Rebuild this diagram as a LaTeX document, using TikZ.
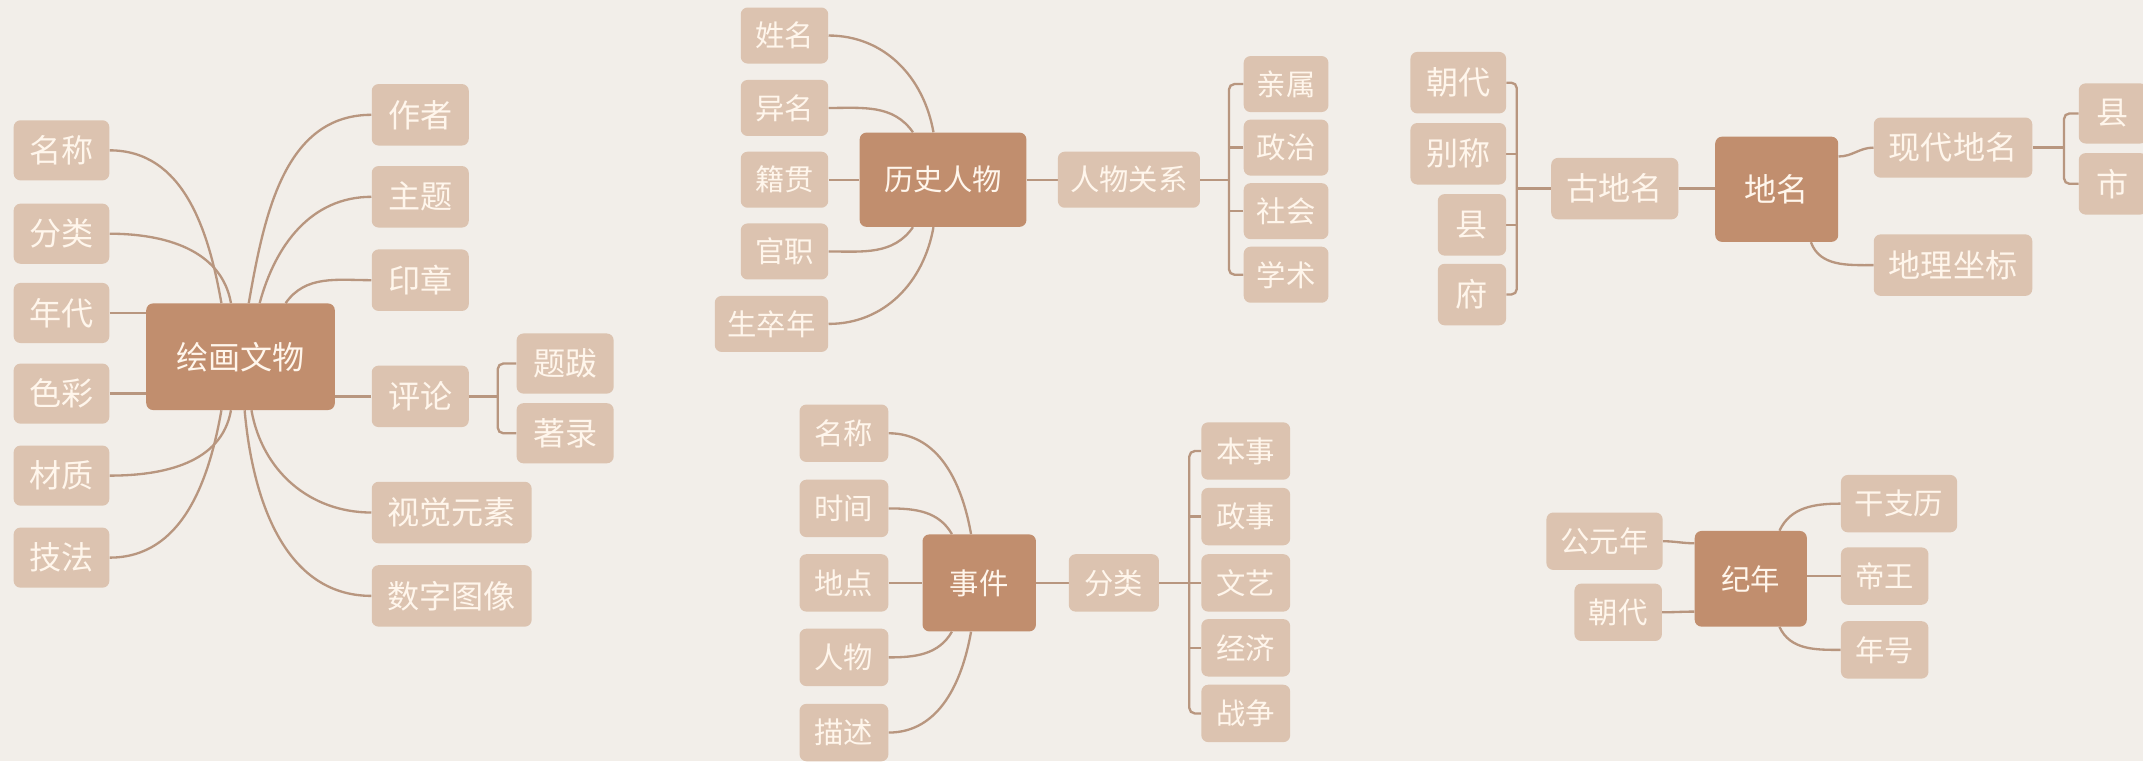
\documentclass[tikz,border=0pt]{standalone}
\usepackage{fontspec}
\newfontfamily\cjk{Noto Sans CJK SC}
\usetikzlibrary{backgrounds}
\definecolor{bgc}{HTML}{F2EEE9}
\definecolor{hubc}{HTML}{C18E6E}
\definecolor{leafc}{HTML}{DCC3B0}
\definecolor{txt}{HTML}{FFF6EC}
\definecolor{linec}{HTML}{B8967F}
\tikzset{
  hub/.style={rectangle, rounded corners=5pt, fill=hubc, text=txt, inner sep=0pt},
  leaf/.style={rectangle, rounded corners=5pt, fill=leafc, text=txt, inner sep=0pt},
  link/.style={draw=linec, line width=1.7pt},
  big/.style={font=\cjk\fontsize{23.5}{24}\selectfont},
  small/.style={font=\cjk\fontsize{21.5}{22}\selectfont},
  sz/.style 2 args={minimum width=#1pt, minimum height=#2pt}
}
\begin{document}
\begin{tikzpicture}[x=1pt,y=1pt]
\useasboundingbox (0,0) rectangle (1568,-557);
\clip (0,0) rectangle (1568,-557);
% ---------- group 1 ----------
\node[hub,big,sz={138}{78}] (g1c) at (176,-261) {绘画文物};
\node[leaf,big,sz={70}{44}] (g1a) at (45,-110) {名称};
\node[leaf,big,sz={70}{44}] (g1b) at (45,-171) {分类};
\node[leaf,big,sz={70}{44}] (g1d) at (45,-229) {年代};
\node[leaf,big,sz={70}{44}] (g1e) at (45,-288) {色彩};
\node[leaf,big,sz={70}{44}] (g1f) at (45,-348) {材质};
\node[leaf,big,sz={70}{44}] (g1g) at (45,-408) {技法};
\node[leaf,big,sz={71}{45}] (g1h) at (307.5,-84) {作者};
\node[leaf,big,sz={71}{45}] (g1i) at (307.5,-144) {主题};
\node[leaf,big,sz={71}{45}] (g1j) at (307.5,-205) {印章};
\node[leaf,big,sz={71}{45}] (g1k) at (307.5,-290) {评论};
\node[leaf,big,sz={117}{45}] (g1l) at (330.5,-375) {视觉元素};
\node[leaf,big,sz={117}{45}] (g1m) at (330.5,-436) {数字图像};
\node[leaf,big,sz={71}{44}] (g1n) at (413.5,-266) {题跋};
\node[leaf,big,sz={71}{44}] (g1o) at (413.5,-317) {著录};
\coordinate (g1br) at ([xshift=21pt]g1k.east);
% ---------- group 2 ----------
\node[hub,small,sz={122}{69}] (g2c) at (690,-131.5) {历史人物};
\node[leaf,small,sz={64}{41}] (g2a) at (574,-26) {姓名};
\node[leaf,small,sz={64}{41}] (g2b) at (574,-79) {异名};
\node[leaf,small,sz={64}{41}] (g2d) at (574,-131.5) {籍贯};
\node[leaf,small,sz={64}{41}] (g2e) at (574,-184) {官职};
\node[leaf,small,sz={83}{41}] (g2f) at (564.5,-237) {生卒年};
\node[leaf,small,sz={104}{41}] (g2g) at (826,-131.5) {人物关系};
\node[leaf,small,sz={62}{41}] (g2h) at (941,-61.5) {亲属};
\node[leaf,small,sz={62}{41}] (g2i) at (941,-108) {政治};
\node[leaf,small,sz={62}{41}] (g2j) at (941,-154.5) {社会};
\node[leaf,small,sz={62}{41}] (g2k) at (941,-201) {学术};
\coordinate (g2br) at ([xshift=21pt]g2g.east);
% ---------- group 3 ----------
\node[hub,big,sz={90}{77}] (g3c) at (1300,-138.5) {地名};
\node[leaf,big,sz={70}{45}] (g3a) at (1067,-60.5) {朝代};
\node[leaf,big,sz={70}{45}] (g3b) at (1067,-112.5) {别称};
\node[leaf,big,sz={50}{45}] (g3d) at (1077,-164.5) {县};
\node[leaf,big,sz={50}{45}] (g3e) at (1077,-215.5) {府};
\node[leaf,big,sz={93}{45}] (g3f) at (1181.5,-138) {古地名};
\node[leaf,big,sz={116}{44}] (g3g) at (1429,-108) {现代地名};
\node[leaf,big,sz={116}{45}] (g3h) at (1429,-194) {地理坐标};
\node[leaf,big,sz={50}{44}] (g3i) at (1546,-83) {县};
\node[leaf,big,sz={50}{45}] (g3j) at (1546,-134.5) {市};
\coordinate (g3br) at ([xshift=-25pt]g3f.west);
\coordinate (g3br2) at ([xshift=23pt]g3g.east);
% ---------- group 4 ----------
\node[hub,small,sz={83}{71}] (g4c) at (716.5,-426.5) {事件};
\node[leaf,small,sz={65}{42}] (g4a) at (617.5,-317) {名称};
\node[leaf,small,sz={65}{42}] (g4b) at (617.5,-372) {时间};
\node[leaf,small,sz={65}{42}] (g4d) at (617.5,-426.5) {地点};
\node[leaf,small,sz={65}{42}] (g4e) at (617.5,-481) {人物};
\node[leaf,small,sz={65}{42}] (g4f) at (617.5,-536) {描述};
\node[leaf,small,sz={66}{42}] (g4g) at (815,-426.5) {分类};
\node[leaf,small,sz={65}{42}] (g4h) at (911.5,-330) {本事};
\node[leaf,small,sz={65}{42}] (g4i) at (911.5,-378) {政事};
\node[leaf,small,sz={65}{42}] (g4j) at (911.5,-426.5) {文艺};
\node[leaf,small,sz={65}{42}] (g4k) at (911.5,-474) {经济};
\node[leaf,small,sz={65}{42}] (g4l) at (911.5,-522) {战争};
\coordinate (g4br) at ([xshift=22pt]g4g.east);
% ---------- group 5 ----------
\node[hub,small,sz={82}{70}] (g5c) at (1281,-423.5) {纪年};
\node[leaf,small,sz={85}{42}] (g5a) at (1174,-396) {公元年};
\node[leaf,small,sz={64}{42}] (g5b) at (1184,-448) {朝代};
\node[leaf,small,sz={85}{42}] (g5d) at (1389.5,-368.5) {干支历};
\node[leaf,small,sz={64}{42}] (g5e) at (1379,-421.5) {帝王};
\node[leaf,small,sz={64}{42}] (g5f) at (1379,-475.5) {年号};

\begin{pgfonlayer}{background}
\fill[bgc] (0,0) rectangle (1568,-557);
% group 1
\draw[link] (g1a.east) to[out=0,in=100] ([xshift=-14pt]g1c.north);
\draw[link] (g1b.east) to[out=0,in=100] ([xshift=-7pt]g1c.north);
\draw[link] (g1d.east) -- (g1d.east -| g1c.west);
\draw[link] (g1e.east) -- (g1e.east -| g1c.west);
\draw[link] (g1f.east) to[out=0,in=-100] ([xshift=-7pt]g1c.south);
\draw[link] (g1g.east) to[out=0,in=-100] ([xshift=-14pt]g1c.south);
\draw[link] (g1h.west) to[out=180,in=80] ([xshift=6pt]g1c.north);
\draw[link] (g1i.west) to[out=180,in=75] ([xshift=14pt]g1c.north);
\draw[link] (g1j.west) to[out=180,in=55] ([xshift=33pt]g1c.north);
\draw[link] (g1k.west) -- (g1k.west -| g1c.east);
\draw[link] (g1l.west) to[out=180,in=-80] ([xshift=8pt]g1c.south);
\draw[link] (g1m.west) to[out=180,in=-85] ([xshift=3pt]g1c.south);
\draw[link] (g1k.east) -- (g1br);
\draw[link,rounded corners=4pt] (g1n.west) -| (g1br) |- (g1o.west);
% group 2
\draw[link] (g2a.east) to[out=0,in=100] ([xshift=-7pt]g2c.north);
\draw[link] (g2b.east) to[out=0,in=125] ([xshift=-22pt]g2c.north);
\draw[link] (g2d.east) -- (g2d.east -| g2c.west);
\draw[link] (g2e.east) to[out=0,in=-125] ([xshift=-22pt]g2c.south);
\draw[link] (g2f.east) to[out=0,in=-100] ([xshift=-7pt]g2c.south);
\draw[link] (g2c.east) -- (g2g.west);
\draw[link] (g2g.east) -- (g2br);
\draw[link,rounded corners=4pt] (g2h.west) -| (g2br) |- (g2k.west);
\draw[link] (g2i.west) -- (g2i.west -| g2br);
\draw[link] (g2j.west) -- (g2j.west -| g2br);
% group 3
\draw[link] (g3f.west) -- (g3br);
\draw[link,rounded corners=4pt] (g3a.east) -| (g3br) |- (g3e.east);
\draw[link] (g3b.east) -- (g3b.east -| g3br);
\draw[link] (g3d.east) -- (g3d.east -| g3br);
\draw[link] (g3f.east) -- (g3f.east -| g3c.west);
\draw[link] ([yshift=24pt]g3c.east) to[out=0,in=180] (g3g.west);
\draw[link] ([xshift=25pt]g3c.south) to[out=-70,in=180] (g3h.west);
\draw[link] (g3g.east) -- (g3br2);
\draw[link,rounded corners=4pt] (g3i.west) -| (g3br2) |- (g3j.west);
% group 4
\draw[link] (g4a.east) to[out=0,in=100] ([xshift=-6pt]g4c.north);
\draw[link] (g4b.east) to[out=0,in=120] ([xshift=-20pt]g4c.north);
\draw[link] (g4d.east) -- (g4c.west);
\draw[link] (g4e.east) to[out=0,in=-120] ([xshift=-20pt]g4c.south);
\draw[link] (g4f.east) to[out=0,in=-100] ([xshift=-6pt]g4c.south);
\draw[link] (g4c.east) -- (g4g.west);
\draw[link] (g4g.east) -- (g4br);
\draw[link,rounded corners=4pt] (g4h.west) -| (g4br) |- (g4l.west);
\draw[link] (g4i.west) -- (g4i.west -| g4br);
\draw[link] (g4j.west) -- (g4j.west -| g4br);
\draw[link] (g4k.west) -- (g4k.west -| g4br);
% group 5
\draw[link] (g5a.east) to[out=0,in=180] ([yshift=26pt]g5c.west);
\draw[link] (g5b.east) to[out=0,in=180] ([yshift=-24pt]g5c.west);
\draw[link] ([xshift=21pt]g5c.north) to[out=65,in=180] (g5d.west);
\draw[link] (g5e.west -| g5c.east) -- (g5e.west);
\draw[link] ([xshift=21pt]g5c.south) to[out=-65,in=180] (g5f.west);
\end{pgfonlayer}
\end{tikzpicture}
\end{document}
